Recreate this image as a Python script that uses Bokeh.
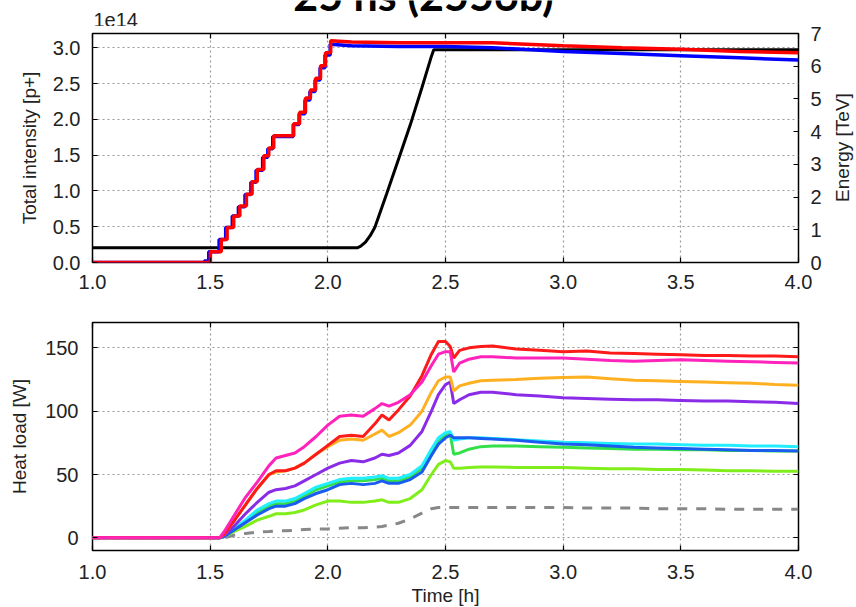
import numpy as np
from bokeh.plotting import figure
from bokeh.models import Range1d, LinearAxis, FixedTicker, NumeralTickFormatter
from bokeh.core.properties import value
from bokeh.layouts import column, row
from bokeh.embed import file_html
from bokeh.resources import INLINE

# ---------------- data ----------------
title_text = "25 ns (2556b)"
offset_text = "1e14"
energy_label = "Energy [TeV]"
x_ticks = [1.0, 1.5, 2.0, 2.5, 3.0, 3.5, 4.0]
intensity_ticks = [0.0, 0.5, 1.0, 1.5, 2.0, 2.5, 3.0]
energy_ticks = [0, 1, 2, 3, 4, 5, 6, 7]
heat_ticks = [0, 50, 100, 150]

# Beam intensity (units of 1e14 p+): injection staircase, then slow decay
red_step_time = [1.0, 1.501, 1.547, 1.572, 1.600, 1.626, 1.654, 1.678, 1.700, 1.728, 1.749,
                 1.770, 1.855, 1.880, 1.905, 1.926, 1.948, 1.969, 1.990, 2.012]
red_step_int = [0.0, 0.15, 0.32, 0.49, 0.65, 0.79, 0.955, 1.13, 1.30, 1.49, 1.60,
                1.77, 1.94, 2.10, 2.30, 2.41, 2.575, 2.75, 2.93, 3.10]
red_tail_time = [2.10, 2.30, 2.50, 2.70, 3.00, 3.25, 3.50, 3.75, 4.00]
red_tail_int = [3.08, 3.07, 3.07, 3.07, 3.03, 3.00, 2.98, 2.95, 2.93]

blue_step_time = [1.0, 1.475, 1.494, 1.538, 1.566, 1.594, 1.620, 1.648, 1.673, 1.695, 1.723,
                  1.745, 1.766, 1.853, 1.878, 1.903, 1.924, 1.946, 1.967, 1.988, 2.010]
blue_step_int = [0.0, 0.02, 0.15, 0.32, 0.49, 0.65, 0.78, 0.95, 1.12, 1.29, 1.47,
                 1.59, 1.76, 1.93, 2.08, 2.27, 2.39, 2.55, 2.72, 2.90, 3.05]
blue_tail_time = [2.10, 2.30, 2.50, 2.70, 3.00, 3.25, 3.50, 3.75, 4.00]
blue_tail_int = [3.03, 3.02, 3.02, 3.00, 2.95, 2.92, 2.89, 2.86, 2.83]

# Beam energy [TeV]
energy_time = [1.0, 2.125, 2.14, 2.16, 2.18, 2.20, 2.25, 2.30, 2.35, 2.40, 2.44, 2.45, 4.0]
energy_tev = [0.45, 0.45, 0.50, 0.62, 0.82, 1.08, 2.10, 3.15, 4.20, 5.35, 6.30, 6.50, 6.50]

# Heat load [W]
hl_time = [1.0, 1.54, 1.56, 1.6, 1.65, 1.7, 1.75, 1.78, 1.82, 1.86, 1.9, 1.95, 2.0, 2.05,
           2.1, 2.15, 2.2, 2.23, 2.26, 2.3, 2.35, 2.4, 2.44, 2.47, 2.5, 2.52, 2.535, 2.56,
           2.6, 2.65, 2.7, 2.8, 2.9, 3.0, 3.1, 3.2, 3.3, 3.4, 3.5, 3.6, 3.7, 3.8, 3.9, 4.0]
hl_red = [0, 0, 3, 13, 26, 39, 50, 53, 53, 55, 59, 66, 73, 80,
          81, 80, 90, 97, 93, 101, 112, 128, 145, 155, 155, 151, 142, 148,
          150, 151, 151.5, 149, 148, 147, 147.5, 146, 145.5, 145, 144.5, 144, 144, 143.5, 143.5, 143]
hl_magenta = [0, 0, 5, 17, 32, 44, 57, 63, 65, 67, 72, 80, 89, 96,
              97, 96, 102, 106, 104, 107, 113, 123, 136, 145, 147, 147, 131, 138,
              141, 143, 143, 142, 142, 142, 141, 140, 139.5, 140, 140.5, 140, 139.5, 139, 138.5, 138]
hl_orange = [0, 0, 3, 13, 26, 39, 50, 52, 53, 55, 59, 66, 72, 77,
             78, 77, 82, 85, 80, 83, 89, 100, 115, 124, 127, 127, 116, 120,
             122, 124, 124.5, 125, 126, 126.5, 127, 125.5, 124.5, 124, 123.5, 123, 122.5, 122, 121, 120.5]
hl_purple = [0, 0, 2, 9, 19, 28, 36, 38, 39, 41, 45, 50, 55, 59,
             61, 60, 63, 66, 65, 67, 73, 84, 100, 113, 121, 123, 106, 109,
             113, 115, 115, 113, 112, 110.5, 110, 109.5, 109, 109, 108.5, 108, 108, 107.5, 107, 106]
hl_cyan = [0, 0, 1, 7, 14, 22, 27, 29, 29, 31, 35, 40, 43, 46,
           47, 47, 48, 49, 47, 47, 50, 57, 70, 79, 83, 84, 77, 78,
           79, 79, 78.5, 77.5, 76.5, 75.5, 75, 74.5, 74, 74, 73.5, 73, 73, 72.5, 72.5, 72]
hl_green = [0, 0, 1, 6, 13, 20, 25, 27, 27, 29, 33, 38, 41, 44,
            45, 45, 46, 47, 45, 45, 48, 55, 68, 77, 81, 82, 66, 67,
            70, 72, 72.5, 72.5, 72, 71.5, 71, 70.5, 70, 70, 69.5, 69.5, 69, 69, 68.5, 68.5]
hl_blue = [0, 0, 1, 6, 12, 18, 23, 25, 25, 27, 31, 35, 38, 42,
           43, 42, 43, 45, 43, 43, 46, 52, 65, 74, 79, 81, 79, 79,
           79, 78.5, 78, 77, 75.5, 74, 73.5, 72.5, 71.5, 71, 70.5, 70, 69.5, 69, 69, 68.5]
hl_lime = [0, 0, 1, 5, 9, 14, 17, 19, 19, 20, 22, 26, 29, 29,
           28, 28, 29, 30, 28, 28, 31, 38, 50, 58, 61, 60, 55, 55,
           55.5, 56, 56, 55.5, 55.5, 55.5, 55, 54.5, 54.5, 54, 54, 53.5, 53, 53, 52.5, 52.5]
hl_gray = [0, 0, 0, 2, 3.5, 4.5, 5, 5.5, 5.5, 6, 6.5, 7, 7, 7.5,
           8, 8, 8.5, 9, 10, 11.5, 15, 19.5, 23, 24, 24, 24, 24, 24,
           24, 24, 24, 24, 24, 24, 23.5, 23.5, 23.5, 23, 23, 23, 22.5, 22.5, 22.5, 22.5]

# ---------------- helpers ----------------
FONT = "Liberation Sans"
RIGHT = 32   # right border of the main panels
HEAD = 26    # height of the header strip
TOPB = 7     # top border of the upper panel (room for the "7" tick label)


def stairs(t, v):
    xs, ys = [t[0]], [v[0]]
    for i in range(1, len(t)):
        xs += [t[i], t[i]]
        ys += [v[i - 1], v[i]]
    return xs, ys


def style_axis(ax, label_size="19px"):
    ax.axis_line_color = None
    ax.major_tick_in = 5
    ax.major_tick_out = 0
    ax.major_tick_line_color = "black"
    ax.major_tick_line_width = 1.2
    ax.minor_tick_line_color = None
    ax.major_label_text_font = FONT
    ax.major_label_text_font_size = "20px"
    ax.major_label_text_color = "#222222"
    ax.axis_label_text_font = FONT
    ax.axis_label_text_font_size = label_size
    ax.axis_label_text_font_style = "normal"
    ax.axis_label_text_color = "#222222"


def blank_axis(ax):
    style_axis(ax)
    ax.major_label_text_font_size = "1px"
    ax.major_label_text_color = None
    ax.major_label_standoff = 0


def style_fig(p):
    p.outline_line_color = "black"
    p.outline_line_width = 1.5
    p.outline_line_alpha = 1.0
    p.xgrid.grid_line_color = "#9a9a9a"
    p.ygrid.grid_line_color = "#9a9a9a"
    p.xgrid.grid_line_dash = "2 3"
    p.ygrid.grid_line_dash = "2 3"
    p.xgrid.grid_line_width = 1.2
    p.ygrid.grid_line_width = 1.2
    p.background_fill_color = "white"
    p.border_fill_color = "white"


def text_fig(fw, fh, **kw):
    f = figure(frame_width=fw, frame_height=fh, min_border_top=0, min_border_bottom=0,
               x_range=Range1d(0, fw), y_range=Range1d(0, fh),
               x_axis_type=None, y_axis_type=None,
               output_backend="svg", toolbar_location=None, **kw)
    f.outline_line_color = None
    f.grid.visible = False
    f.border_fill_color = "white"
    return f


# ---------------- header (title, offset text); pixel units relative to frame ----------------
head = text_fig(706, HEAD, min_border_left=92, min_border_right=RIGHT)
head.text(x=[331], y=[HEAD - 19], text=[title_text], text_font=value("Lato"),
          text_font_style="bold", text_font_size="43px", text_color="black",
          text_align="center", text_baseline="bottom")
head.text(x=[1], y=[HEAD - 19], text=[offset_text], text_font=value(FONT),
          text_font_size="20px", text_color="#222222",
          text_align="left", text_baseline="middle")

# ---------------- top panel ----------------
top = figure(frame_width=706, frame_height=229, min_border_left=92, min_border_right=RIGHT,
             min_border_top=TOPB, min_border_bottom=38,
             x_range=Range1d(1.0, 4.0), y_range=Range1d(0.0, 3.2),
             output_backend="svg", toolbar_location=None)
top.extra_y_ranges = {"energy": Range1d(0, 7)}
style_fig(top)

top.xaxis.ticker = FixedTicker(ticks=x_ticks)
top.xaxis.formatter = NumeralTickFormatter(format="0.0")
top.yaxis.ticker = FixedTicker(ticks=intensity_ticks)
top.yaxis.formatter = NumeralTickFormatter(format="0.0")
top.yaxis.axis_label = "Total intensity [p+]"
for ax in top.xaxis + top.yaxis:
    style_axis(ax)
top.xaxis.major_label_standoff = 12
top.yaxis.major_label_standoff = 12
top.yaxis.axis_label_standoff = 10

eax = LinearAxis(y_range_name="energy", ticker=FixedTicker(ticks=energy_ticks))
style_axis(eax)
eax.major_label_standoff = 12
top.add_layout(eax, "right")

ttop = LinearAxis(ticker=FixedTicker(ticks=x_ticks))
blank_axis(ttop)
top.add_layout(ttop, "above")

top.line(energy_time, energy_tev, y_range_name="energy", line_color="black", line_width=3)
bx, by = stairs(blue_step_time, blue_step_int)
top.line(bx + blue_tail_time, by + blue_tail_int, line_color="#0000ff", line_width=3.5)
rx, ry = stairs(red_step_time, red_step_int)
top.line(rx + red_tail_time, ry + red_tail_int, line_color="#ff0000", line_width=3.5)

# ---------------- bottom panel ----------------
bot = figure(frame_width=706, frame_height=228, min_border_left=92, min_border_right=RIGHT,
             min_border_top=22, min_border_bottom=57,
             x_range=Range1d(1.0, 4.0), y_range=Range1d(-10, 170),
             output_backend="svg", toolbar_location=None)
style_fig(bot)
bot.xaxis.ticker = FixedTicker(ticks=x_ticks)
bot.xaxis.formatter = NumeralTickFormatter(format="0.0")
bot.xaxis.axis_label = "Time [h]"
bot.yaxis.ticker = FixedTicker(ticks=heat_ticks)
bot.yaxis.axis_label = "Heat load [W]"
for ax in bot.xaxis + bot.yaxis:
    style_axis(ax)
bot.xaxis.major_label_standoff = 14
bot.xaxis.axis_label_standoff = 3
bot.yaxis.major_label_standoff = 14
bot.yaxis.axis_label_standoff = 12

rax = LinearAxis(ticker=FixedTicker(ticks=heat_ticks))
blank_axis(rax)
bot.add_layout(rax, "right")
tbot = LinearAxis(ticker=FixedTicker(ticks=x_ticks))
blank_axis(tbot)
bot.add_layout(tbot, "above")

bot.line(hl_time, hl_gray, line_color="#888888", line_width=3, line_dash="10 9")
series = [
    (hl_lime, "#80ee1a"),
    (hl_green, "#33e04a"),
    (hl_cyan, "#22eeff"),
    (hl_blue, "#1a5cf0"),
    (hl_purple, "#8a2be8"),
    (hl_orange, "#ffb020"),
    (hl_red, "#ff1a1a"),
    (hl_magenta, "#ff22bb"),
]
for vals, col in series:
    bot.line(hl_time, vals, line_color=col, line_width=3)

# ---------------- side strip with the energy axis title (reads bottom-to-top) ----------------
side = text_fig(26, 607, min_border_left=0, min_border_right=0)
side.text(x=[12], y=[460], text=[energy_label], angle=np.pi / 2,
          text_font=value(FONT), text_font_size="19px", text_color="#222222",
          text_align="center", text_baseline="middle")

layout = row(column(head, top, bot, spacing=0), side, spacing=0)
open("out.html", "w").write(file_html(layout, INLINE))
